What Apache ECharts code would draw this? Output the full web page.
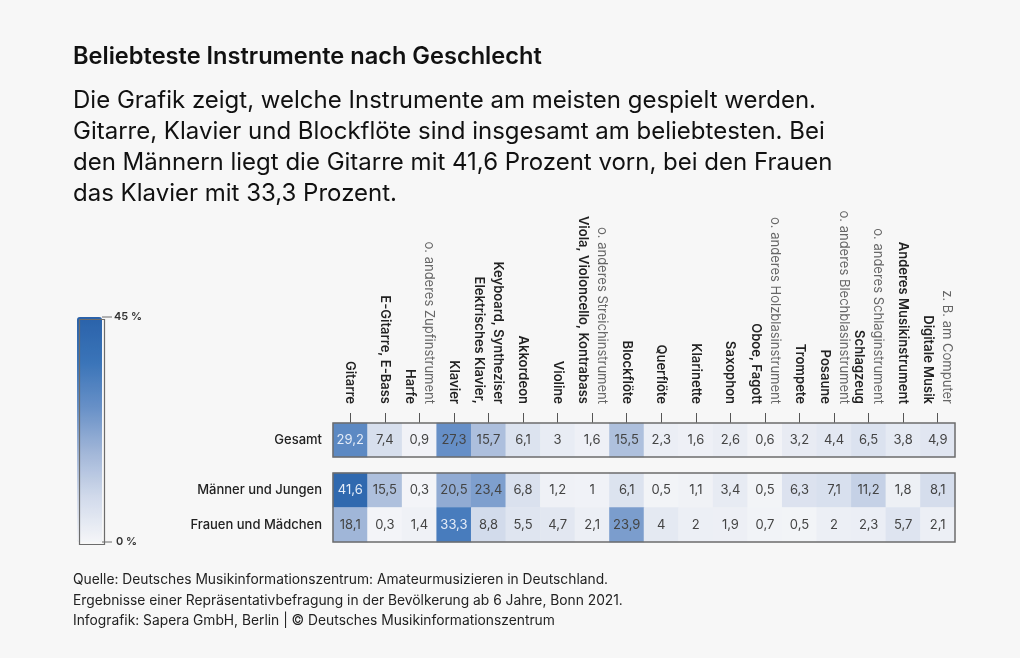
<!DOCTYPE html>
<html><head><meta charset="utf-8">
<script src="https://cdn.jsdelivr.net/npm/echarts@6/dist/echarts.min.js"></script>
<style>html,body{margin:0;padding:0;background:#f7f7f7}#c{width:1020px;height:658px}</style>
</head><body><div id="c"></div>
<script>
const instruments = ['Gitarre','E-Gitarre, E-Bass','Harfe','Klavier','Elektrisches Klavier,\nKeyboard, Syntheziser','Akkordeon','Violine','Viola, Violoncello, Kontrabass','Blockflöte','Querflöte','Klarinette','Saxophon','Oboe, Fagott','Trompete','Posaune','Schlagzeug','Anderes Musikinstrument','Digitale Musik'];
const instrumentNotes = ['','','o. anderes Zupfinstrument','','','','','o. anderes Streichinstrument','','','','','o. anderes Holzblasinstrument','','o. anderes Blechblasinstrument','o. anderes Schlaginstrument','','z. B. am Computer'];
const totalRow = ['Gesamt'];
const genderRows = ['Männer und Jungen','Frauen und Mädchen'];
const gesamt  = [29.2,7.4,0.9,27.3,15.7,6.1,3,1.6,15.5,2.3,1.6,2.6,0.6,3.2,4.4,6.5,3.8,4.9];
const maenner = [41.6,15.5,0.3,20.5,23.4,6.8,1.2,1,6.1,0.5,1.1,3.4,0.5,6.3,7.1,11.2,1.8,8.1];
const frauen  = [18.1,0.3,1.4,33.3,8.8,5.5,4.7,2.1,23.9,4,2,1.9,0.7,0.5,2,2.3,5.7,2.1];
const scaleMin = 0, scaleMax = 45;
const scaleLabels = ['45 %','0 %'];

const FONT = 'Inter';
function cell(x, y, v) {
  return { value: [x, y, v], label: { color: v >= 28 ? '#e4ecf8' : '#444' } };
}
const dataTotal = gesamt.map((v, i) => cell(i, 0, v));
const dataGender = maenner.map((v, i) => cell(i, 0, v)).concat(frauen.map((v, i) => cell(i, 1, v)));
const fmt = p => String(p.value[2]).replace('.', ',');

const GL = 333, GR = 65;
const chart = echarts.init(document.getElementById('c'), null, { renderer: 'canvas' });
chart.setOption({
  backgroundColor: '#f7f7f7',
  animation: false,
  textStyle: { fontFamily: FONT },
  title: [
    { text: 'Beliebteste Instrumente nach Geschlecht', left: 73, top: 45, padding: 0,
      textStyle: { fontFamily: FONT, fontSize: 23.6, fontWeight: 600, color: '#111' } },
    { text: 'Die Grafik zeigt, welche Instrumente am meisten gespielt werden.\nGitarre, Klavier und Blockflöte sind insgesamt am beliebtesten. Bei\nden Männern liegt die Gitarre mit 41,6 Prozent vorn, bei den Frauen\ndas Klavier mit 33,3 Prozent.',
      left: 73, top: 85, padding: 0,
      textStyle: { fontFamily: FONT, fontSize: 24, fontWeight: 400, lineHeight: 31, color: '#111' } },
    { text: 'Quelle: Deutsches Musikinformationszentrum: Amateurmusizieren in Deutschland.\nErgebnisse einer Repräsentativbefragung in der Bevölkerung ab 6 Jahre, Bonn 2021.\nInfografik: Sapera GmbH, Berlin | © Deutsches Musikinformationszentrum',
      left: 73, top: 570, padding: 0,
      textStyle: { fontFamily: FONT, fontSize: 13.8, fontWeight: 400, lineHeight: 20.5, color: '#222' } }
  ],
  grid: [
    { left: GL, right: GR, top: 423, height: 34, show: true, z: 10, backgroundColor: 'transparent', borderColor: '#6c6c6c', borderWidth: 1.5 },
    { left: GL, right: GR, top: 473, height: 69, show: true, z: 10, backgroundColor: 'transparent', borderColor: '#6c6c6c', borderWidth: 1.5 }
  ],
  xAxis: [
    { type: 'category', gridIndex: 0, position: 'top', data: instruments,
      axisLine: { show: false },
      axisTick: { show: true, alignWithLabel: true, length: 10, lineStyle: { color: '#555', width: 1 } },
      splitLine: { show: false },
      axisLabel: { interval: 0, rotate: 90, margin: 19,
        formatter: (val, idx) => {
          const parts = val.split('\n').map(s => '{b|' + s + '}');
          if (instrumentNotes[idx]) parts.push('{g|' + instrumentNotes[idx] + '}');
          return parts.reverse().join('\n');
        },
        rich: {
          b: { fontFamily: FONT, fontSize: 13, fontWeight: 600, color: '#222', lineHeight: 19 },
          g: { fontFamily: FONT, fontSize: 13, fontWeight: 400, color: '#666', lineHeight: 19 }
        } } },
    { type: 'category', gridIndex: 1, data: instruments, show: false }
  ],
  yAxis: [
    { type: 'category', gridIndex: 0, data: totalRow,
      axisLine: { show: false }, axisTick: { show: false }, splitLine: { show: false },
      axisLabel: { margin: 11, fontFamily: FONT, fontSize: 13, fontWeight: 500, color: '#222' } },
    { type: 'category', gridIndex: 1, data: genderRows, inverse: true,
      axisLine: { show: false }, axisTick: { show: false }, splitLine: { show: false },
      axisLabel: { margin: 11, fontFamily: FONT, fontSize: 13, fontWeight: 500, color: '#222' } }
  ],
  visualMap: {
    type: 'continuous', min: scaleMin, max: scaleMax, seriesIndex: [0, 1],
    left: 77, top: 317, itemWidth: 25, itemHeight: 225, padding: 0,
    calculable: false, showLabel: false,
    inRange: { color: ['#f4f5f8', '#d1daeb', '#a1b6d8', '#6790c7', '#3a74b8', '#2a62aa'] }
  },
  graphic: [
    { type: 'rect', left: 77, top: 317, shape: { width: 25, height: 225 }, style: { fill: 'none', stroke: '#6c6c6c', lineWidth: 1.2 }, z: 100 },
    { type: 'line', shape: { x1: 102, y1: 317, x2: 112, y2: 317 }, style: { stroke: '#6c6c6c', lineWidth: 1 }, z: 100 },
    { type: 'line', shape: { x1: 102, y1: 542, x2: 112, y2: 542 }, style: { stroke: '#6c6c6c', lineWidth: 1 }, z: 100 },
    { type: 'text', x: 114, y: 317, style: { text: scaleLabels[0], fill: '#333', font: '600 11px Inter', verticalAlign: 'middle' }, z: 100 },
    { type: 'text', x: 116, y: 542, style: { text: scaleLabels[1], fill: '#333', font: '600 11px Inter', verticalAlign: 'middle' }, z: 100 }
  ],
  series: [
    { type: 'heatmap', xAxisIndex: 0, yAxisIndex: 0, data: dataTotal,
      label: { show: true, formatter: fmt, fontFamily: FONT, fontSize: 13 },
      emphasis: { disabled: true } },
    { type: 'heatmap', xAxisIndex: 1, yAxisIndex: 1, data: dataGender,
      label: { show: true, formatter: fmt, fontFamily: FONT, fontSize: 13 },
      emphasis: { disabled: true } }
  ]
});
</script></body></html>
